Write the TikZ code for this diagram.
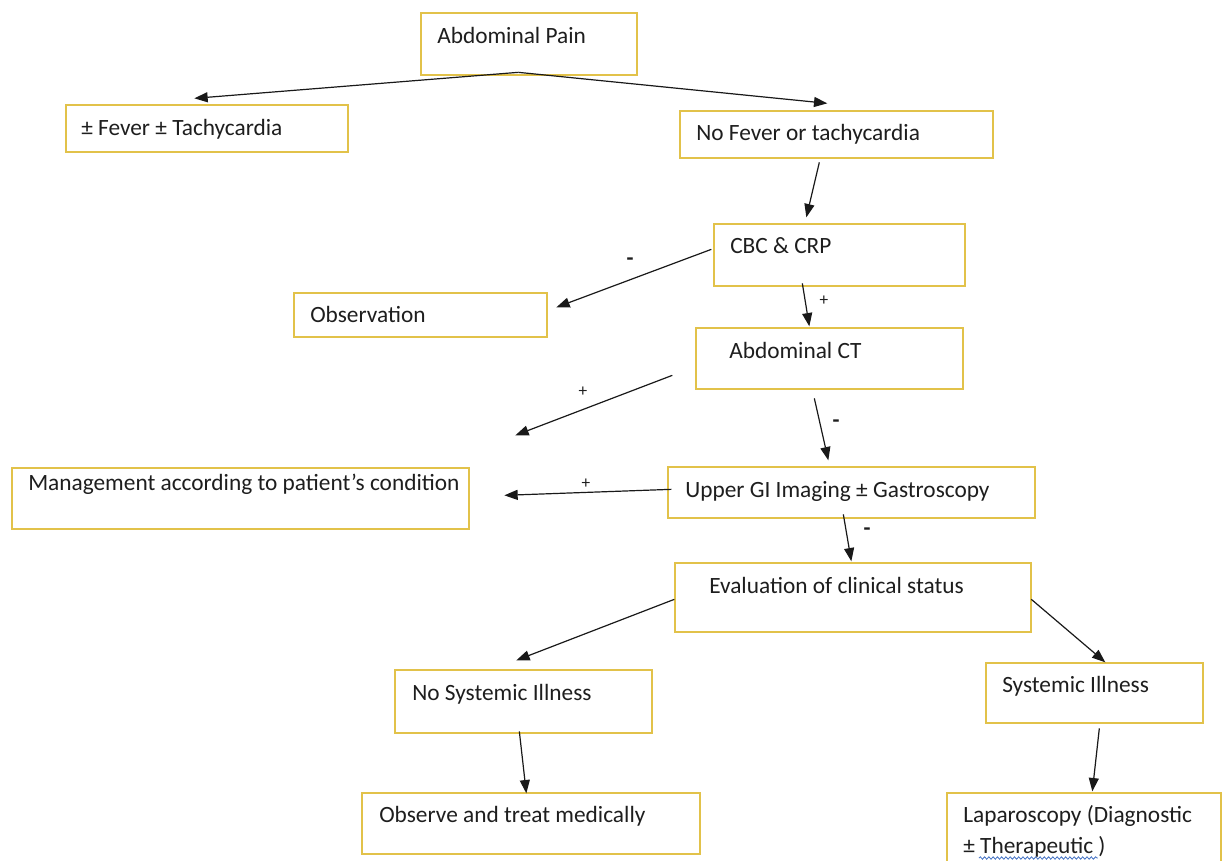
\documentclass[tikz,border=0pt]{standalone}
\usepackage{fontspec}
\setmainfont{Carlito}
\usetikzlibrary{arrows.meta,calc,fit,decorations.pathmorphing}
\definecolor{boxgold}{HTML}{E2C24A}
\definecolor{txtcol}{HTML}{1E1E1E}
\definecolor{squig}{HTML}{4472C4}
\tikzset{
  box/.style={draw=boxgold, line width=1pt, inner sep=0pt, fill=white},
  txt/.style={anchor=base west, inner sep=0pt, text=txtcol, font=\fontsize{17.5}{20}\selectfont},
  sign/.style={inner sep=0pt, text=txtcol, font=\fontsize{13}{15}\selectfont},
  minus/.style={inner sep=0pt, text=txtcol, font=\fontsize{17}{19}\bfseries},
  arr/.style={draw=black!90, line width=0.9pt, -{Triangle[length=10pt,width=7.5pt]}},
}
\begin{document}
\begin{tikzpicture}[x=0.75pt,y=-0.75pt]
\useasboundingbox (0,0) rectangle (1222,861);
% boxes
\node[box, fit={(421,13) (637,75)}] (ap) {};
\node[box, fit={(66,105) (348,152)}] (fever) {};
\node[box, fit={(680,111) (993,158)}] (nofever) {};
\node[box, fit={(714,224) (965,286)}] (cbc) {};
\node[box, fit={(294,293) (547,337)}] (obs) {};
\node[box, fit={(696,328) (963,389)}] (ct) {};
\node[box, fit={(12,468) (469,529)}] (mgmt) {};
\node[box, fit={(668,467) (1035,518)}] (ugi) {};
\node[box, fit={(675,563) (1031,632)}] (eval) {};
\node[box, fit={(395,670) (652,733)}] (nsi) {};
\node[box, fit={(986,663) (1203,723)}] (si) {};
\node[box, fit={(362,793) (700,854)}] (obs2) {};
\node[box, fit={(947,793) (1221,880)}] (lap) {};
% texts
\node[txt] (apt) at (437,43) {Abdominal Pain};
\node[txt] (fevert) at (81,135) {± Fever ± Tachycardia};
\node[txt] (nofevert) at (696,140) {No Fever or tachycardia};
\node[txt] (cbct) at (730,253) {CBC \& CRP};
\node[txt] (obst) at (310,322) {Observation};
\node[txt] (ctt) at (729,358) {Abdominal CT};
\node[txt] (mgmtt) at (28,490) {Management according to patient’s condition};
\node[txt] (ugit) at (685,497) {Upper GI Imaging ± Gastroscopy};
\node[txt] (evalt) at (709,593) {Evaluation of clinical status};
\node[txt] (nsit) at (412,700) {No Systemic Illness};
\node[txt] (sit) at (1002,692) {Systemic Illness};
\node[txt] (obs2t) at (379,822) {Observe and treat medically};
\node[txt] (lapt1) at (963,822) {Laparoscopy (Diagnostic};
\node[txt] (lapt2) at (963,853) {± Therapeutic )};
\draw[squig, line width=0.6pt, decorate, decoration={snake, amplitude=0.9pt, segment length=3.2pt}]
  ($(lapt2.base west)+(16,5)$) -- ($(lapt2.base east)+(-8,5)$);
% free end
\coordinate (ctplus) at ($(ct.north west)+(-180,108)$);
% connectors
\draw[arr] ($(ap.north west)+(98,60)$) -- ($(fever.north west)+(129,-6)$);
\draw[arr] ($(ap.north west)+(98,60)$) -- ($(nofever.north west)+(148,-7)$);
\draw[arr] ($(nofever.north west)+(140,52)$) -- ($(cbc.north west)+(93,-6)$);
\draw[arr] ($(cbc.north west)+(-2,26)$) -- ($(obs.north west)+(263,15)$);
\draw[arr] ($(cbc.north west)+(89,60)$) -- ($(ct.north west)+(114,-1)$);
\draw[arr] ($(ct.north west)+(-23,48)$) -- (ctplus);
\draw[arr] ($(ct.north west)+(119,71)$) -- ($(ugi.north west)+(161,-6)$);
\draw[arr] ($(ugi.north west)+(4,23)$) -- ($(mgmt.north west)+(493,28)$);
\draw[arr] ($(ugi.north west)+(176,48)$) -- ($(eval.north west)+(177,-1)$);
\draw[arr] ($(eval.north west)+(0,37)$) -- ($(nsi.north west)+(122,-9)$);
\draw[arr] ($(eval.north west)+(357,37)$) -- ($(si.north west)+(120,0)$);
\draw[arr] ($(nsi.north west)+(125,62)$) -- ($(obs2.north west)+(165,1)$);
\draw[arr] ($(si.north west)+(114,66)$) -- ($(lap.north west)+(146,-1)$);
% edge signs
\node[minus] (s1) at (630,262) {-};
\node[sign] (s2) at (824,301) {+};
\node[sign] (s3) at (583,392) {+};
\node[minus] (s4) at (836,424) {-};
\node[sign] (s5) at (586,484) {+};
\node[minus] (s6) at (867,532) {-};
\end{tikzpicture}
\end{document}
